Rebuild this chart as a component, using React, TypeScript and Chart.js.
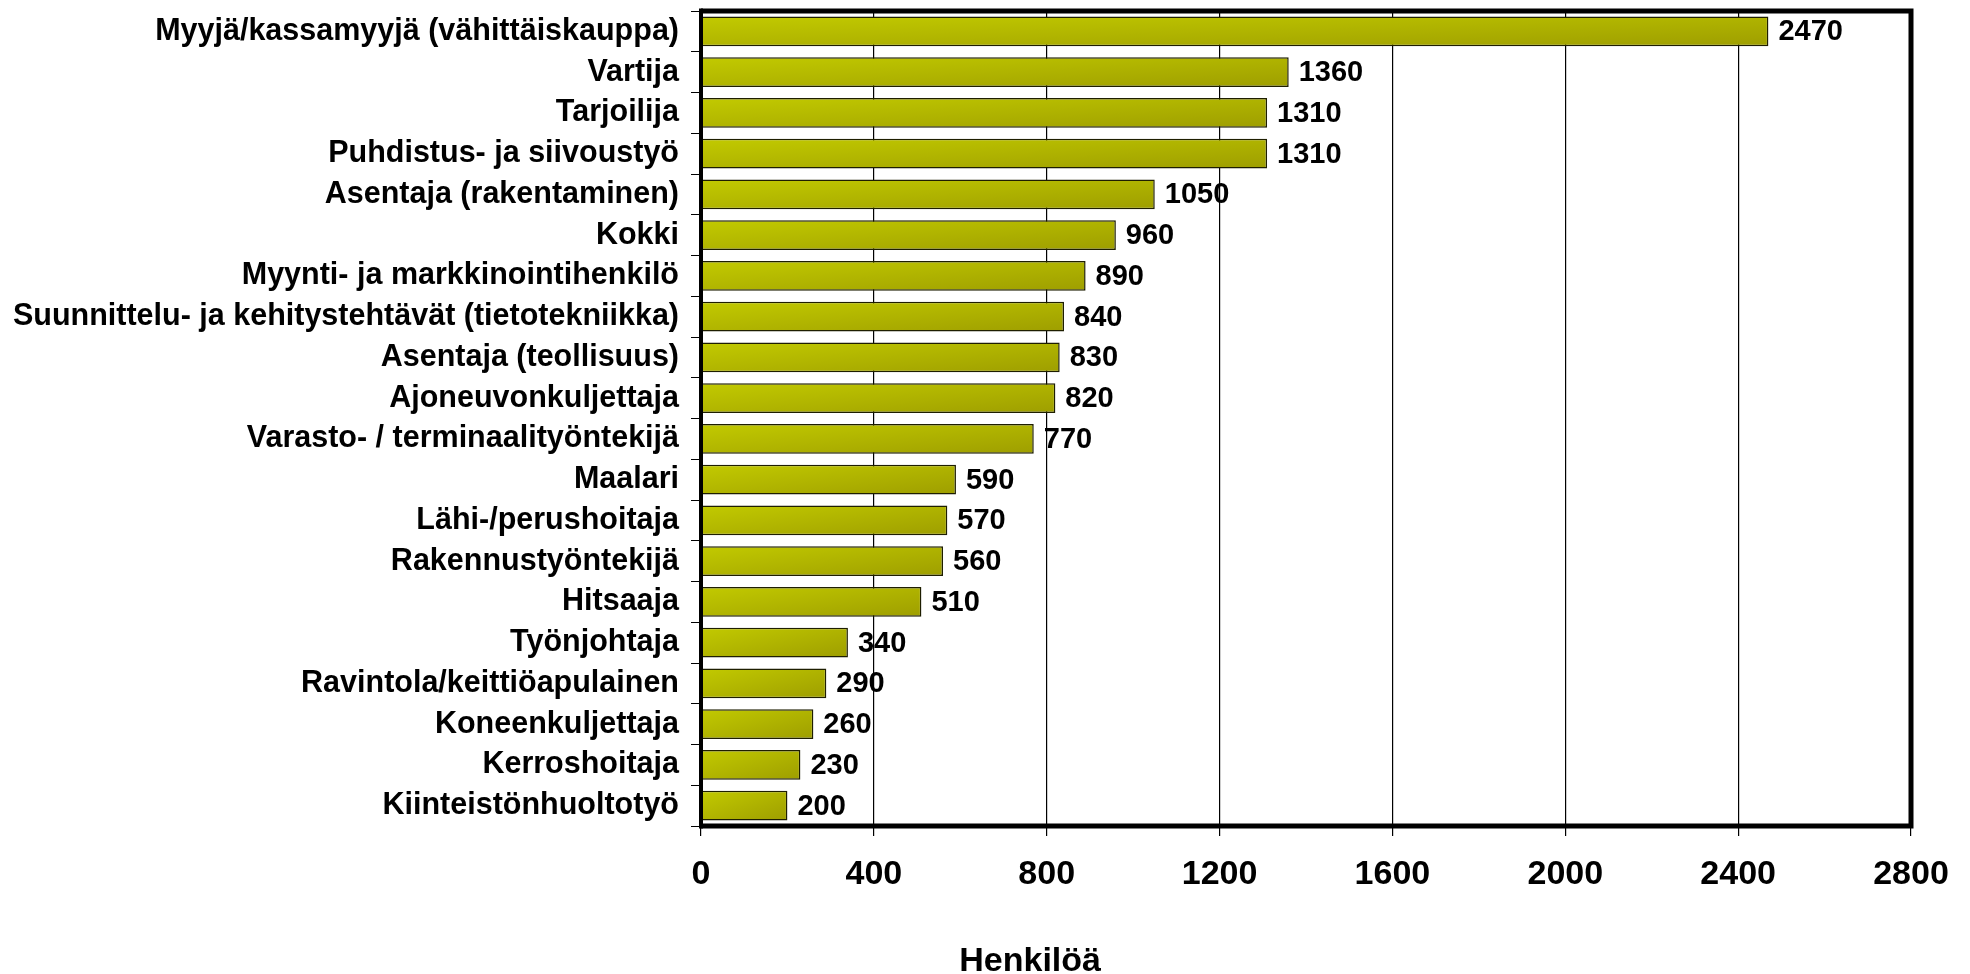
import React, { useEffect, useRef } from "react";
import { Chart, registerables } from "chart.js";

Chart.register(...registerables);

const categories: string[] = [
  "Myyjä/kassamyyjä (vähittäiskauppa)",
  "Vartija",
  "Tarjoilija",
  "Puhdistus- ja siivoustyö",
  "Asentaja (rakentaminen)",
  "Kokki",
  "Myynti- ja markkinointihenkilö",
  "Suunnittelu- ja kehitystehtävät (tietotekniikka)",
  "Asentaja (teollisuus)",
  "Ajoneuvonkuljettaja",
  "Varasto- / terminaalityöntekijä",
  "Maalari",
  "Lähi-/perushoitaja",
  "Rakennustyöntekijä",
  "Hitsaaja",
  "Työnjohtaja",
  "Ravintola/keittiöapulainen",
  "Koneenkuljettaja",
  "Kerroshoitaja",
  "Kiinteistönhuoltotyö",
];

const values: number[] = [
  2470, 1360, 1310, 1310, 1050, 960, 890, 840, 830, 820, 770, 590, 570, 560,
  510, 340, 290, 260, 230, 200,
];

const xTicks: number[] = [0, 400, 800, 1200, 1600, 2000, 2400, 2800];
const axisTitle = "Henkilöä";

const FONT = "'Liberation Sans', Arial, Helvetica, sans-serif";

const valueLabelPlugin = {
  id: "valueLabels",
  afterDatasetsDraw(chart: any) {
    const ctx = chart.ctx;
    const meta = chart.getDatasetMeta(0);
    ctx.save();
    ctx.font = `bold 29px ${FONT}`;
    ctx.fillStyle = "#000";
    ctx.textAlign = "left";
    ctx.textBaseline = "middle";
    meta.data.forEach((el: any, i: number) => {
      ctx.fillText(String(values[i]), el.x + 10, el.y + 1);
    });
    ctx.restore();
  },
};

const framePlugin = {
  id: "frame",
  afterDraw(chart: any) {
    const { ctx, chartArea: a } = chart;
    ctx.save();
    ctx.strokeStyle = "#000";
    ctx.lineWidth = 5;
    ctx.beginPath();
    ctx.moveTo(a.left, a.top);
    ctx.lineTo(a.right, a.top);
    ctx.lineTo(a.right, a.bottom);
    ctx.lineTo(a.left, a.bottom);
    ctx.stroke();
    ctx.lineWidth = 4;
    ctx.beginPath();
    ctx.moveTo(a.left, a.top - 2.5);
    ctx.lineTo(a.left, a.bottom + 2.5);
    ctx.stroke();
    ctx.restore();
  },
};

const titlePlugin = {
  id: "bottomTitle",
  afterDraw(chart: any) {
    const { ctx, chartArea: a } = chart;
    ctx.save();
    ctx.font = `bold 34px ${FONT}`;
    ctx.fillStyle = "#000";
    ctx.textAlign = "center";
    ctx.textBaseline = "alphabetic";
    const x = a.left + (a.right - a.left) * 0.272;
    ctx.fillText(axisTitle, x, chart.height - 3);
    ctx.restore();
  },
};

function barFill(c: any) {
  const fallback = "#B2B600";
  const chart = c.chart;
  const xs = chart.scales?.x;
  const ys = chart.scales?.y;
  if (!xs || !ys || c.type !== "data") return fallback;
  const v = c.raw as number;
  const x0 = xs.getPixelForValue(0);
  const x1 = xs.getPixelForValue(v);
  const yc = ys.getPixelForValue(c.dataIndex);
  const band = (ys.bottom - ys.top) / categories.length;
  const h = band * 0.736;
  const w = x1 - x0;
  if (![x0, x1, yc, h, w].every((n) => Number.isFinite(n)) || w <= 0 || h <= 0)
    return fallback;
  const top = yc - h / 2;
  const t = 2 / (1 / (w * w) + 1 / (h * h));
  const ex = x0 + t / w;
  const ey = top + t / h;
  if (!Number.isFinite(ex) || !Number.isFinite(ey)) return fallback;
  const g = chart.ctx.createLinearGradient(x0, top, ex, ey);
  g.addColorStop(0, "#C2CA00");
  g.addColorStop(1, "#9E9E00");
  return g;
}

export default function App() {
  const ref = useRef<HTMLCanvasElement | null>(null);
  useEffect(() => {
    if (!ref.current) return;
    const chart = new Chart(ref.current, {
      type: "bar",
      data: {
        labels: categories,
        datasets: [
          {
            data: values,
            backgroundColor: barFill as any,
            borderColor: "#1E1E00",
            borderWidth: 1.5,
            barPercentage: 0.736,
            categoryPercentage: 1,
          },
        ],
      },
      options: {
        indexAxis: "y",
        animation: false,
        responsive: true,
        maintainAspectRatio: false,
        layout: { padding: { top: 11, right: 59, left: 0, bottom: 0 } },
        plugins: {
          legend: { display: false },
          tooltip: { enabled: false },
          title: { display: false },
        },
        scales: {
          x: {
            type: "linear",
            min: xTicks[0],
            max: xTicks[xTicks.length - 1],
            afterBuildTicks: (scale: any) => {
              scale.ticks = xTicks.map((v) => ({ value: v }));
            },
            afterFit: (scale: any) => {
              scale.height = 148;
              scale.paddingLeft = 0;
              scale.paddingRight = 0;
            },
            border: { display: false },
            grid: {
              color: "#000",
              lineWidth: 1.2,
              drawOnChartArea: true,
              drawTicks: true,
              tickLength: 10,
            },
            ticks: {
              color: "#000",
              font: { family: FONT, size: 34, weight: "bold" },
              padding: 18,
              maxRotation: 0,
              callback: (v: any) => String(v),
            },
          },
          y: {
            type: "category",
            afterFit: (scale: any) => {
              scale.width = 701;
              scale.paddingTop = 0;
              scale.paddingBottom = 0;
            },
            border: { display: false },
            grid: {
              offset: true,
              color: "#000",
              lineWidth: 1,
              drawOnChartArea: false,
              drawTicks: true,
              tickLength: 10,
            },
            ticks: {
              color: "#000",
              font: { family: FONT, size: 30.5, weight: "bold" },
              padding: 12,
              autoSkip: false,
            },
          },
        },
      },
      plugins: [valueLabelPlugin, framePlugin, titlePlugin],
    });
    return () => chart.destroy();
  }, []);

  return (
    <div
      style={{
        position: "fixed",
        left: 0,
        top: 0,
        width: 1970,
        height: 974,
        background: "#fff",
      }}
    >
      <canvas ref={ref} />
    </div>
  );
}
